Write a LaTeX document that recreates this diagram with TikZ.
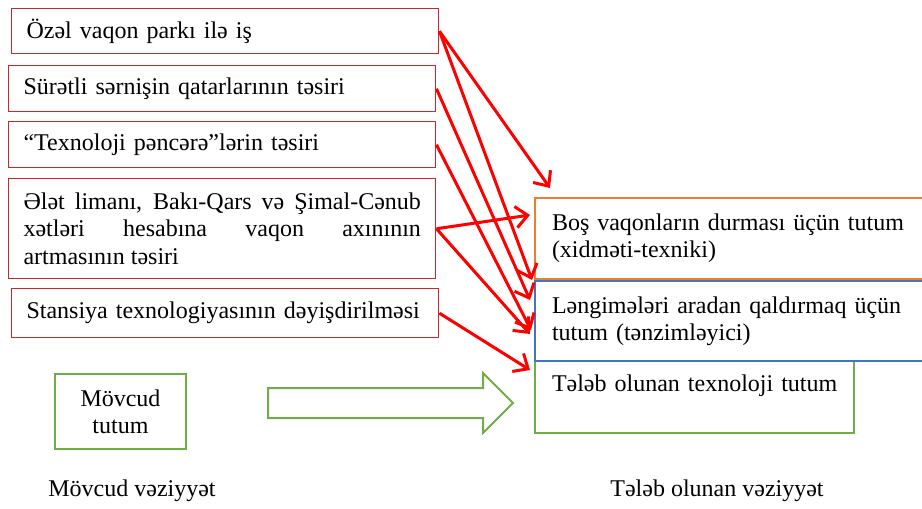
\documentclass[tikz,border=0pt]{standalone}
\usepackage{fontspec}
\setmainfont{Liberation Serif}
\usetikzlibrary{arrows.meta}
\definecolor{boxred}{RGB}{200,40,40}
\definecolor{ofisorange}{RGB}{237,125,49}
\definecolor{ofisblue}{RGB}{68,114,196}
\definecolor{ofisgreen}{RGB}{112,173,71}
\hyphenpenalty=10000
\exhyphenpenalty=10000

\begin{document}
\begin{tikzpicture}[x=0.75pt,y=-0.75pt,font=\fontsize{18}{20.5}\selectfont,
    redbox/.style={draw=boxred,line width=1.1pt,anchor=north west,text width=298pt,inner xsep=11.125pt,inner ysep=0pt,align=left},
    rightbox/.style={line width=1.5pt,anchor=north west,text width=275pt,inner xsep=12.75pt,inner ysep=0pt,align=left},
    arr/.style={red,line width=2.25pt,-{Straight Barb[length=9pt,width=16pt]}}]
    \useasboundingbox (0,0) rectangle (922,508);
    \node[redbox,minimum height=33.75pt] (ozel) at (11,8) {Özəl vaqon parkı ilə iş};
    \node[redbox,minimum height=34.5pt] (suretli) at (8,65) {Sürətli sərnişin qatarlarının təsiri};
    \node[redbox,minimum height=34.5pt] (pencere) at (8,121) {“Texnoloji pəncərə”lərin təsiri};
    \node[redbox,minimum height=75pt,align=justify] (elet) at (8,178) {Ələt limanı, Bakı-Qars və Şimal-Cənub xətləri hesabına vaqon axınının\linebreak artmasının təsiri};
    \node[redbox,minimum height=36.75pt] (stansiya) at (11,288) {Stansiya texnologiyasının dəyişdirilməsi};
    \node[rightbox,draw=ofisgreen,text width=213.75pt,minimum height=54pt] (teleb) at (534,360) {\mbox{Tələb olunan texnoloji tutum}\\ \mbox{}};
    \node[rightbox,draw=ofisblue,minimum height=60pt] (lengime) at (534,280) {Ləngimələri aradan qaldırmaq üçün\\ tutum (tənzimləyici)};
    \node[rightbox,draw=ofisorange,minimum height=60.75pt] (bos) at (534,197) {Boş vaqonların durması üçün tutum\\ (xidməti-texniki)};
    \node[draw=ofisgreen,line width=1.5pt,anchor=north west,minimum width=98.25pt,minimum height=56.25pt,align=center] (movcud) at (54,373) {Mövcud\\ tutum};
    \draw[ofisgreen,line width=1.5pt] (268,388) -- (483,388) -- (483,373) -- (513,403) -- (483,433) -- (483,418) -- (268,418) -- cycle;
    \node (movcudlab) at (132,491) {Mövcud vəziyyət};
    \node (teleblab) at (717,491) {Tələb olunan vəziyyət};
    \coordinate (u1) at (550,188);
    \coordinate (u2) at (532,280);
    \coordinate (u3) at (530,300);
    \coordinate (u4) at (531,330);
    \coordinate (u5) at (530,215);
    \coordinate (u6) at (530,334);
    \coordinate (u7) at (530,370);
    \draw[arr] (ozel.east) -- (u1);
    \draw[arr] (ozel.east) -- (u2);
    \draw[arr] (suretli.east) -- (u3);
    \draw[arr] (pencere.east) -- (u4);
    \draw[arr] (elet.east) -- (u5);
    \draw[arr] (elet.east) -- (u6);
    \draw[arr] (stansiya.east) -- (u7);
\end{tikzpicture}
\end{document}
